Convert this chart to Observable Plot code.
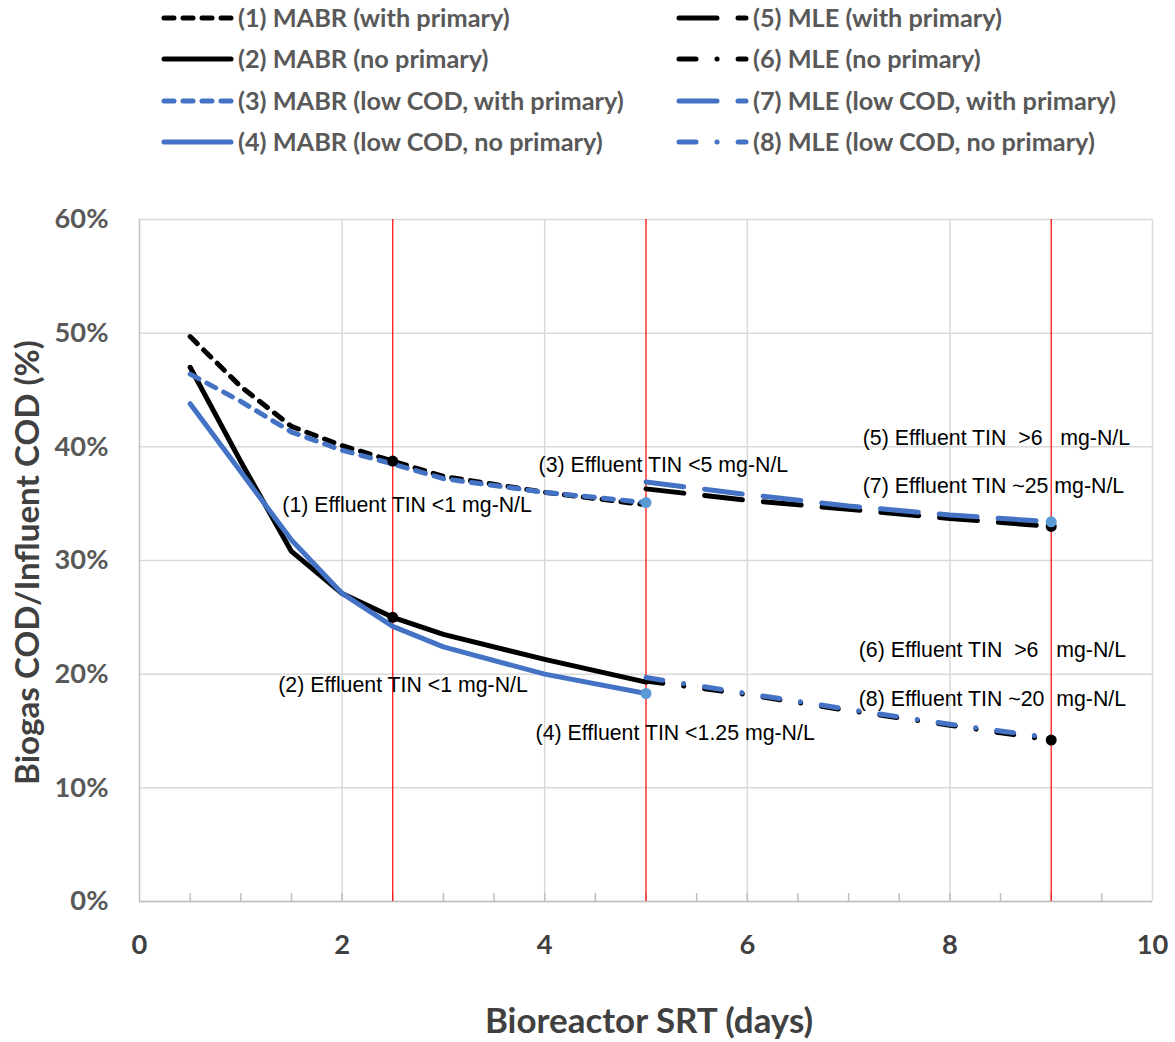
<!DOCTYPE html>
<html>
<head>
<meta charset="utf-8">
<script src="https://cdn.jsdelivr.net/npm/d3@7"></script>
<script src="https://cdn.jsdelivr.net/npm/@observablehq/plot@0.6"></script>
<style>
  body { margin: 0; background: #fff; }
  #wrap { width: 1175px; }
  svg { display: block; }
</style>
</head>
<body>
<div id="wrap"></div>
<script>
// ---------------- DATA ----------------
const srtMABR = [0.5, 1, 1.5, 2, 2.5, 3, 4, 5];
const srtMLE = [5, 6, 7, 8, 9];

const mabrWithPrimary       = [0.497, 0.453, 0.418, 0.401, 0.3875, 0.374, 0.360, 0.349];
const mabrNoPrimary         = [0.470, 0.387, 0.308, 0.271, 0.250, 0.235, 0.213, 0.193];
const mabrLowWithPrimary    = [0.464, 0.440, 0.413, 0.397, 0.385, 0.372, 0.360, 0.351];
const mabrLowNoPrimary      = [0.438, 0.378, 0.318, 0.271, 0.242, 0.224, 0.200, 0.183];
const mleWithPrimary        = [0.363, 0.353, 0.345, 0.337, 0.330];
const mleNoPrimary          = [0.194, 0.182, 0.168, 0.155, 0.142];
const mleLowWithPrimary     = [0.369, 0.358, 0.348, 0.340, 0.334];
const mleLowNoPrimary       = [0.197, 0.183, 0.169, 0.156, 0.144];

const seriesNames = [
  "(1) MABR (with primary)",
  "(2) MABR (no primary)",
  "(3) MABR (low COD, with primary)",
  "(4) MABR (low COD, no primary)",
  "(5) MLE (with primary)",
  "(6) MLE (no primary)",
  "(7) MLE (low COD, with primary)",
  "(8) MLE (low COD, no primary)"
];

// highlighted points: series index and SRT
const markerSeries = [0, 1, 2, 3, 4, 5, 6];
const markerSRT    = [2.5, 2.5, 5, 5, 9, 9, 9];

const yTicks = [0, 0.1, 0.2, 0.3, 0.4, 0.5, 0.6];
const xTickLabels = [0, 2, 4, 6, 8, 10];
const xGrid = [2, 4, 6, 8, 10];
const xMinorTicks = [0.5, 1, 1.5, 2, 2.5, 3, 3.5, 4, 4.5, 5, 5.5, 6, 6.5, 7, 7.5, 8, 8.5, 9, 9.5];
const srtLimits = [2.5, 5, 9];

const annotationText = [
  "(1) Effluent TIN <1 mg-N/L",
  "(2) Effluent TIN <1 mg-N/L",
  "(3) Effluent TIN <5 mg-N/L",
  "(4) Effluent TIN <1.25 mg-N/L",
  "(5) Effluent TIN \u00a0>6 \u00a0 mg-N/L",
  "(7) Effluent TIN ~25 mg-N/L",
  "(6) Effluent TIN \u00a0>6 \u00a0 mg-N/L",
  "(8) Effluent TIN ~20 \u00a0mg-N/L"
];
const annotationSRT = [1.41, 1.37, 3.94, 3.91, 7.14, 7.14, 7.10, 7.10];
const annotationY   = [0.349, 0.190, 0.384, 0.148, 0.408, 0.365, 0.221, 0.178];

const xTitle = "Bioreactor SRT (days)";
const yTitle = "Biogas COD/Influent COD (%)";

// ---------------- BUILD ----------------
const seriesValues = [mabrWithPrimary, mabrNoPrimary, mabrLowWithPrimary, mabrLowNoPrimary,
                      mleWithPrimary, mleNoPrimary, mleLowWithPrimary, mleLowNoPrimary];
const seriesX = [srtMABR, srtMABR, srtMABR, srtMABR, srtMLE, srtMLE, srtMLE, srtMLE];

const BLACK = "#000000", BLUE = "#4472C4", MARK_BLUE = "#5B9BD5";
const DASH = "10,9", LONGDASH = "38,21", LONGDASHDOT = "17,21,0.1,21";
const LW = 5;
const styles = [
  {stroke: BLACK, dash: DASH},
  {stroke: BLACK, dash: null},
  {stroke: BLUE, dash: DASH},
  {stroke: BLUE, dash: null},
  {stroke: BLACK, dash: LONGDASH},
  {stroke: BLACK, dash: LONGDASHDOT},
  {stroke: BLUE, dash: LONGDASH},
  {stroke: BLUE, dash: LONGDASHDOT}
];
const markerFill = [BLACK, BLACK, MARK_BLUE, MARK_BLUE, BLACK, BLACK, MARK_BLUE];

const seriesRows = seriesValues.map((vals, i) =>
  vals.map((v, j) => ({series: seriesNames[i], srt: seriesX[i][j], value: v})));

const markerRows = markerSeries.map((s, k) => {
  const j = seriesX[s].indexOf(markerSRT[k]);
  return {srt: markerSRT[k], value: seriesValues[s][j], fill: markerFill[k]};
});

const annotationRows = annotationText.map((t, i) => ({text: t, srt: annotationSRT[i], value: annotationY[i]}));

// font fitting helper
const ctx = document.createElement("canvas").getContext("2d");
function fit(text, weight, family, target) {
  ctx.font = `${weight} 100px ${family}`;
  return 100 * target / ctx.measureText(text).width;
}
const AXIS_FONT = "Lato";
const tickSize = fit("60%", "bold", AXIS_FONT, 54);
const titleSizeX = fit(xTitle, "bold", AXIS_FONT, 330);
const titleSizeY = fit(yTitle, "bold", AXIS_FONT, 445);
const legendSize = fit(seriesNames[0], "bold", AXIS_FONT, 272);
const annSize = fit(annotationText[0], "normal", "Liberation Sans", 250);

const wrap = document.getElementById("wrap");

// ---------------- LEGEND ----------------
const LEG_H = 170;
const legend = d3.create("svg").attr("width", 1175).attr("height", LEG_H);
const rowY = [18, 59, 101, 142];
const colX = [162, 677];
seriesNames.forEach((name, i) => {
  const col = Math.floor(i / 4), row = i % 4;
  const x0 = colX[col], y = rowY[row];
  legend.append("line")
    .attr("x1", x0 + 2).attr("x2", x0 + 69)
    .attr("y1", y).attr("y2", y)
    .attr("stroke", styles[i].stroke)
    .attr("stroke-width", LW)
    .attr("stroke-linecap", "round")
    .attr("stroke-dasharray", styles[i].dash);
  legend.append("text")
    .attr("x", x0 + 76).attr("y", y)
    .attr("dy", "0.35em")
    .attr("font-family", AXIS_FONT)
    .attr("font-weight", "bold")
    .attr("font-size", legendSize)
    .attr("fill", "#595959")
    .text(name);
});
wrap.appendChild(legend.node());

// ---------------- PLOT ----------------
const H = 1042 - LEG_H;
const lineMarks = seriesRows.map((rows, i) => Plot.line(rows, {
  x: "srt", y: "value",
  stroke: styles[i].stroke,
  strokeWidth: LW,
  strokeDasharray: styles[i].dash,
  strokeLinecap: "round",
  strokeLinejoin: "round"
}));

const chart = Plot.plot({
  width: 1175,
  height: H,
  marginLeft: 139,
  marginRight: 23,
  marginTop: 49,
  marginBottom: 141,
  x: {domain: [0, 10], axis: null},
  y: {domain: [0, 0.6], axis: null},
  style: {background: "white", overflow: "visible"},
  marks: [
    Plot.ruleY(yTicks, {y: d => d, stroke: "#d9d9d9", strokeWidth: 1.5}),
    Plot.ruleX(xGrid, {x: d => d, stroke: "#d9d9d9", strokeWidth: 1.5}),
    Plot.ruleX(xMinorTicks, {x: d => d, y1: 0, y2: 0, insetBottom: 8, stroke: "#bfbfbf", strokeWidth: 1.5}),
    Plot.ruleX([0], {stroke: "#bfbfbf", strokeWidth: 1.5}),
    Plot.ruleY([0], {stroke: "#bfbfbf", strokeWidth: 1.5}),
    Plot.ruleX(srtLimits, {x: d => d, stroke: "#ff0000", strokeWidth: 1.2}),
    ...lineMarks,
    Plot.dot(markerRows, {x: "srt", y: "value", r: 5.5, fill: "fill", stroke: null}),
    Plot.text(annotationRows, {
      x: "srt", y: "value", text: "text",
      textAnchor: "start", lineAnchor: "middle",
      fontSize: annSize, fontFamily: "Liberation Sans, Arial, sans-serif", fill: "#000"
    }),
    Plot.text(yTicks, {
      y: d => d, text: d => Math.round(d * 100) + "%",
      frameAnchor: "left", textAnchor: "end", lineAnchor: "middle", dx: -31,
      fontSize: tickSize, fontFamily: AXIS_FONT, fontWeight: "bold", fill: "#595959"
    }),
    Plot.text(xTickLabels, {
      x: d => d, text: d => String(d),
      frameAnchor: "bottom", lineAnchor: "middle", dy: 44,
      fontSize: tickSize, fontFamily: AXIS_FONT, fontWeight: "bold", fill: "#404040"
    }),
    Plot.text([xTitle], {
      text: d => d, frameAnchor: "bottom", lineAnchor: "middle", dy: 120, dx: 3,
      fontSize: titleSizeX, fontFamily: AXIS_FONT, fontWeight: "bold", fill: "#404040"
    }),
    Plot.text([yTitle], {
      text: d => d, frameAnchor: "left", rotate: -90, textAnchor: "middle", lineAnchor: "middle",
      dx: -111, dy: 2,
      fontSize: titleSizeY, fontFamily: AXIS_FONT, fontWeight: "bold", fill: "#404040"
    })
  ]
});
wrap.appendChild(chart);
</script>
</body>
</html>
